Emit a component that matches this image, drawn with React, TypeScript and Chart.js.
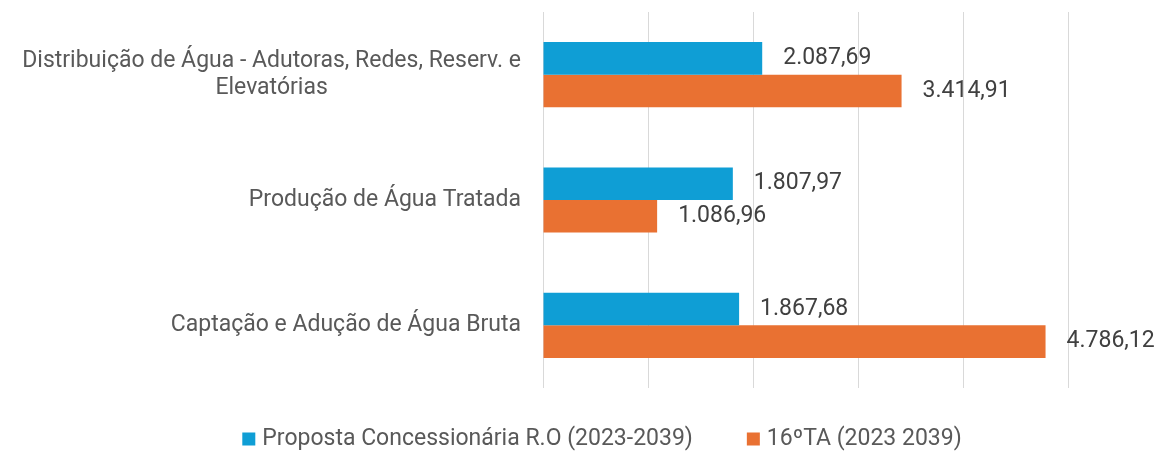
import React, { useEffect, useRef } from "react";
import { Chart, registerables } from "chart.js";

Chart.register(...registerables);

const categories: string[][] = [
  ["Distribuição de Água - Adutoras, Redes, Reserv. e", "Elevatórias"],
  ["Produção de Água Tratada"],
  ["Captação e Adução de Água Bruta"],
];
const seriesNames = ["Proposta Concessionária R.O (2023-2039)", "16ºTA (2023 2039)"];
const propostaValues = [2087.69, 1807.97, 1867.68];
const taValues = [3414.91, 1086.96, 4786.12];
const xTicks = [0, 1000, 2000, 3000, 4000, 5000];

const BLUE = "#0F9ED5";
const ORANGE = "#E97132";
const FONT = "Roboto";
const FS = 23;

function fmt(v: number): string {
  const [i, d] = v.toFixed(2).split(".");
  const withDots = i.replace(/\B(?=(\d{3})+(?!\d))/g, ".");
  return withDots + "," + d;
}

const labelPlugin = {
  id: "customLabels",
  afterDatasetsDraw(chart: any) {
    const ctx = chart.ctx;
    ctx.save();
    ctx.font = `${FS}px ${FONT}`;
    ctx.fillStyle = "#404040";
    ctx.textBaseline = "middle";
    ctx.textAlign = "left";
    chart.data.datasets.forEach((ds: any, di: number) => {
      const meta = chart.getDatasetMeta(di);
      meta.data.forEach((bar: any, i: number) => {
        ctx.fillText(fmt(ds.data[i]), bar.x + 21, bar.y);
      });
    });
    // category labels
    const yScale = chart.scales.y;
    ctx.fillStyle = "#595959";
    ctx.textAlign = "center";
    const rightEdge = 521;
    categories.forEach((lines, i) => {
      const yc = yScale.getPixelForValue(i);
      const widths = lines.map((l) => ctx.measureText(l).width);
      const maxW = Math.max(...widths);
      const cx = rightEdge - maxW / 2;
      const lh = 27;
      const y0 = yc - ((lines.length - 1) * lh) / 2;
      lines.forEach((l, k) => ctx.fillText(l, cx, y0 + k * lh));
    });
    // legend
    const colors = [BLUE, ORANGE];
    const ly = 439;
    const box = 13;
    const gapBoxText = 7;
    const gapItems = 54;
    const widthsL = seriesNames.map((n) => ctx.measureText(n).width);
    const total =
      widthsL.reduce((a, b) => a + b, 0) + 2 * (box + gapBoxText) + gapItems;
    let x = 602 - total / 2;
    ctx.textAlign = "left";
    seriesNames.forEach((n, k) => {
      ctx.fillStyle = colors[k];
      ctx.fillRect(x, ly - box / 2, box, box);
      x += box + gapBoxText;
      ctx.fillStyle = "#595959";
      ctx.fillText(n, x, ly);
      x += widthsL[k] + gapItems;
    });
    ctx.restore();
  },
};

export default function App() {
  const ref = useRef<HTMLCanvasElement>(null);
  useEffect(() => {
    if (!ref.current) return;
    const chart = new Chart(ref.current, {
      type: "bar",
      data: {
        labels: categories.map((c) => c.join(" ")),
        datasets: [
          { label: seriesNames[0], data: propostaValues, backgroundColor: BLUE, borderWidth: 0 },
          { label: seriesNames[1], data: taValues, backgroundColor: ORANGE, borderWidth: 0 },
        ],
      },
      options: {
        indexAxis: "y",
        animation: false,
        responsive: false,
        maintainAspectRatio: false,
        layout: { padding: { left: 0, right: 93, top: 12, bottom: 63 } },
        datasets: { bar: { categoryPercentage: 0.52, barPercentage: 1 } } as any,
        scales: {
          x: {
            min: 0,
            max: 5000,
            afterBuildTicks: (s: any) => {
              s.ticks = xTicks.map((v) => ({ value: v }));
            },
            ticks: { display: false },
            grid: { color: "#D9D9D9", lineWidth: 1, drawTicks: false },
            border: { display: false },
          },
          y: {
            ticks: { display: false },
            grid: { display: false },
            border: { display: false },
            afterFit: (s: any) => {
              s.width = 543;
            },
          },
        },
        plugins: {
          legend: { display: false },
          tooltip: { enabled: false },
        },
      },
      plugins: [labelPlugin],
    });
    return () => chart.destroy();
  }, []);
  return (
    <div style={{ position: "fixed", left: 0, top: 0, width: 1161, height: 451, background: "#fff" }}>
      <canvas ref={ref} width={1161} height={451} />
    </div>
  );
}
